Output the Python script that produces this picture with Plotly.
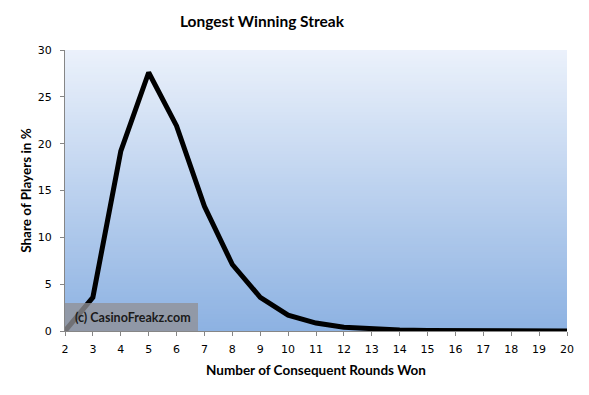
import plotly.graph_objects as go

rounds = list(range(2, 21))
share = [0.0, 3.6, 19.2, 27.6, 21.9, 13.3, 7.1, 3.6, 1.7, 0.85, 0.4, 0.2, 0.1, 0.05, 0.02, 0.01, 0.0, 0.0, 0.0]

title = "Longest Winning Streak"
x_title = "Number of Consequent Rounds Won"
y_title = "Share of Players in %"
watermark = "(c) CasinoFreakz.com"

fig = go.Figure()
fig.add_trace(go.Scatter(x=rounds, y=share, mode="lines",
                         line=dict(color="black", width=5), showlegend=False,
                         hoverinfo="x+y"))

# vertical gradient background (overlapping stripes, top drawn last)
top = (235, 241, 251)
bot = (141, 178, 226)
n = 100
shapes = []
for i in range(n):
    t = i / (n - 1)
    c = tuple(round(bot[k] + (top[k] - bot[k]) * t) for k in range(3))
    shapes.append(dict(type="rect", xref="x domain", yref="y domain",
                       x0=0, x1=1, y0=i / n, y1=1,
                       fillcolor="rgb(%d,%d,%d)" % c, line=dict(width=0), layer="below"))
# watermark box
shapes.append(dict(type="rect", xref="x domain", yref="y domain",
                   x0=0, x1=(198 - 65) / 502, y0=0, y1=28 / 281,
                   fillcolor="rgba(145,145,150,0.78)", line=dict(width=0), layer="above"))

fig.update_layout(
    width=589, height=395,
    margin=dict(l=65, r=22, t=50, b=64),
    paper_bgcolor="white", plot_bgcolor="rgba(0,0,0,0)",
    shapes=shapes,
    title=dict(text="<b>" + title + "</b>", x=(262) / 589, xanchor="center",
               y=1 - 22 / 395, yanchor="middle",
               font=dict(family="Lato", size=15.5, color="black")),
    annotations=[dict(text="<b>" + watermark + "</b>", xref="x domain", yref="y domain",
                      x=(73 - 65) / 502, y=14 / 281, xanchor="left", yanchor="middle",
                      showarrow=False, font=dict(family="Lato", size=12.5, color="#1a1a1a"))],
    xaxis=dict(range=[2, 20], tickmode="linear", tick0=2, dtick=1, automargin=False,
               showline=True, linecolor="#868686", linewidth=1,
               ticks="outside", ticklen=4, tickcolor="#868686", ticklabelstandoff=4,
               showgrid=False, zeroline=False,
               tickfont=dict(family="DejaVu Sans", size=11, color="black"),
               title=dict(text="<b>" + x_title + "</b>", standoff=10,
                          font=dict(family="Lato", size=13.5, color="black"))),
    yaxis=dict(range=[0, 30], tickmode="linear", tick0=0, dtick=5, automargin=False,
               showline=True, linecolor="#868686", linewidth=1,
               ticks="outside", ticklen=4, tickcolor="#868686", ticklabelstandoff=6,
               showgrid=False, zeroline=False,
               tickfont=dict(family="DejaVu Sans", size=11, color="black"),
               title=dict(text="<b>" + y_title + "</b>", standoff=3,
                          font=dict(family="Lato", size=13.5, color="black"))),
)

fig.write_html("out.html", config={"responsive": False, "displayModeBar": False},
               post_script="document.body.style.margin='0';")
